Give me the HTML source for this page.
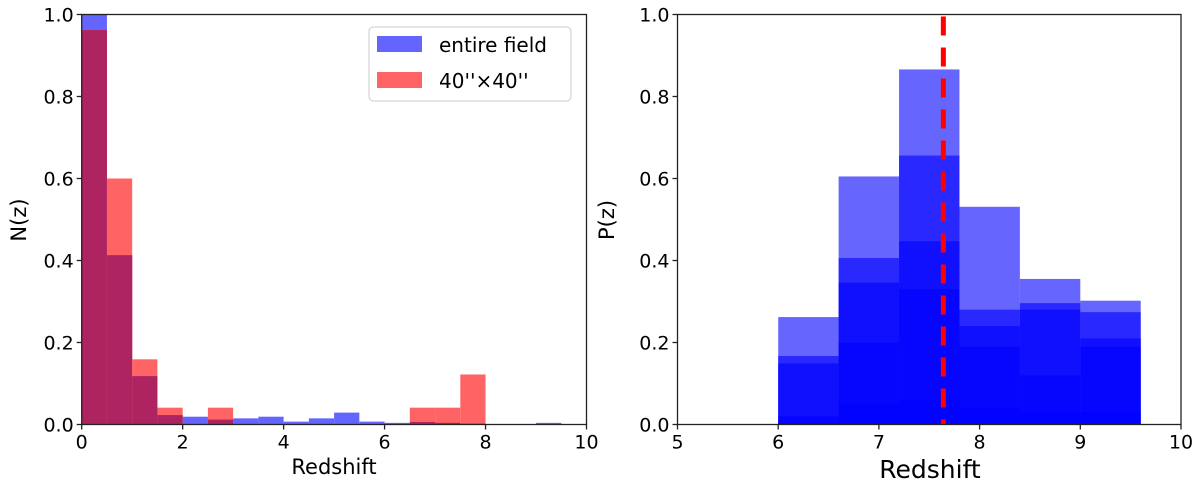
<!DOCTYPE html>
<html><head><meta charset="utf-8"><style>
html,body{margin:0;padding:0;background:#fff;}
svg text{font-family:"DejaVu Sans","Liberation Sans",sans-serif;fill:#000;}
</style></head><body>
<svg id="fig" width="1200" height="491" xmlns="http://www.w3.org/2000/svg"></svg>
<script>
// ---- Left panel data ----
const leftBinEdgesStart = 0, leftBinWidth = 0.5;
const blueField = [1.0,0.413,0.118,0.023,0.019,0.012,0.015,0.019,0.007,0.015,0.029,0.007,0.004,0.006,0.004,0.002,0,0,0.004,0];
const red40 = [0.962,0.60,0.159,0.041,0,0.041,0,0,0,0,0,0,0,0.041,0.041,0.122,0,0,0,0];
const leftXTicks = [0,2,4,6,8,10];
const yTicks = [0.0,0.2,0.4,0.6,0.8,1.0];
const yTickLabels = ["0.0","0.2","0.4","0.6","0.8","1.0"];
// ---- Right panel data ----
const rightBins = [6.0,6.6,7.2,7.8,8.4,9.0];
const rightBinWidth = 0.6;
const pzLayers = [
  [0.262,0.605,0.866,0.531,0.355,0.302],
  [0.167,0.406,0.656,0.280,0.296,0.274],
  [0.149,0.346,0.447,0.240,0.280,0.210],
  [0.020,0.200,0.330,0.190,0.120,0.190],
  [0.005,0.050,0.060,0.040,0.030,0.030]
];
const zBest = 7.64;
const rightXTicks = [5,6,7,8,9,10];

const NS="http://www.w3.org/2000/svg";
const svg=document.getElementById('fig');
function mk(tag,attrs,parent){const e=document.createElementNS(NS,tag);for(const k in attrs)e.setAttribute(k,attrs[k]);(parent||svg).appendChild(e);return e;}

const plotTop=14.5,plotBottom=424.5;
function yS(v){return plotBottom-(plotBottom-plotTop)*v;}

// Left axes
const L={x0:81.7,x1:586.5,xmin:0,xmax:10};
function xL(v){return L.x0+(L.x1-L.x0)*(v-L.xmin)/(L.xmax-L.xmin);}
const gL=mk('g',{});


blueField.forEach((v,i)=>{
  if(v<=0)return;
  const x=xL(leftBinEdgesStart+i*leftBinWidth),w=xL(leftBinEdgesStart+(i+1)*leftBinWidth)-x;
  const r=mk('rect',{x:x,y:yS(v),width:w,height:yS(0)-yS(v),fill:'#6464ff'},gL);
  
  
});
red40.forEach((v,i)=>{
  if(v<=0)return;
  const x=xL(leftBinEdgesStart+i*leftBinWidth),w=xL(leftBinEdgesStart+(i+1)*leftBinWidth)-x;
  const r=mk('rect',{x:x,y:yS(v),width:w,height:yS(0)-yS(v),fill:'#ff6464'},gL);
  
  
  const m=Math.min(v,blueField[i]);
  if(m>0){
    const o=mk('rect',{x:x,y:yS(m),width:w,height:yS(0)-yS(m),fill:'#ad2460'},gL);
    
    
  }
});
function axes(x0,x1,ticks,xf,g){
  mk('rect',{x:x0,y:plotTop,width:x1-x0,height:plotBottom-plotTop,fill:'none',stroke:'#222','stroke-width':1.3},g);
  ticks.forEach(t=>{
    const x=xf(t);
    mk('line',{x1:x,x2:x,y1:plotBottom,y2:plotBottom+5,stroke:'#222','stroke-width':1.3},g);
    const tx=mk('text',{x:x,y:plotBottom+24,'font-size':19,'text-anchor':'middle'},g);tx.textContent=t;
    
    
  });
  yTicks.forEach((t,i)=>{
    const y=yS(t);
    mk('line',{x1:x0-5,x2:x0,y1:y,y2:y,stroke:'#222','stroke-width':1.3},g);
    const tx=mk('text',{x:x0-8,y:y+7,'font-size':19,'text-anchor':'end'},g);tx.textContent=yTickLabels[i];
    
    
  });
}
axes(L.x0,L.x1,leftXTicks,xL,gL);
let t=mk('text',{x:334,y:474,'font-size':21,'text-anchor':'middle'},gL);t.textContent='Redshift';


t=mk('text',{x:0,y:0,'font-size':21,'text-anchor':'middle',transform:'translate(26,220) rotate(-90)'},gL);t.textContent='N(z)';


// legend
const lg=mk('g',{},gL);


mk('rect',{x:369,y:27,width:202,height:74,rx:4,fill:'#fff',stroke:'#ccc','stroke-width':1},lg);
const le1=mk('rect',{x:377,y:36,width:45,height:16,fill:'#6464ff'},lg);


t=mk('text',{x:439,y:52,'font-size':20},lg);t.textContent='entire field';
const le2=mk('rect',{x:377,y:72,width:45,height:16,fill:'#ff6464'},lg);


t=mk('text',{x:439,y:88,'font-size':20},lg);t.textContent="40''×40''";

// Right axes
const R={x0:677.5,x1:1181,xmin:5,xmax:10};
function xR(v){return R.x0+(R.x1-R.x0)*(v-R.xmin)/(R.xmax-R.xmin);}
const gR=mk('g',{});


pzLayers.forEach((layer,li)=>{
  layer.forEach((v,i)=>{
    if(v<=0)return;
    const x=xR(rightBins[i]),w=xR(rightBins[i]+rightBinWidth)-x;
    const r=mk('rect',{x:x,y:yS(v),width:w,height:yS(0)-yS(v),fill:'#0000ff','fill-opacity':0.6},gR);
    
    
  });
});
const dl=mk('line',{x1:xR(zBest),x2:xR(zBest),y1:yS(0.995),y2:yS(0),stroke:'#ff0000','stroke-width':5,'stroke-dasharray':'19,12'},gR);


axes(R.x0,R.x1,rightXTicks,xR,gR);
t=mk('text',{x:930,y:478,'font-size':25,'text-anchor':'middle'},gR);t.textContent='Redshift';


t=mk('text',{x:0,y:0,'font-size':21,'text-anchor':'middle',transform:'translate(614,220) rotate(-90)'},gR);t.textContent='P(z)';


</script>
</body></html>
